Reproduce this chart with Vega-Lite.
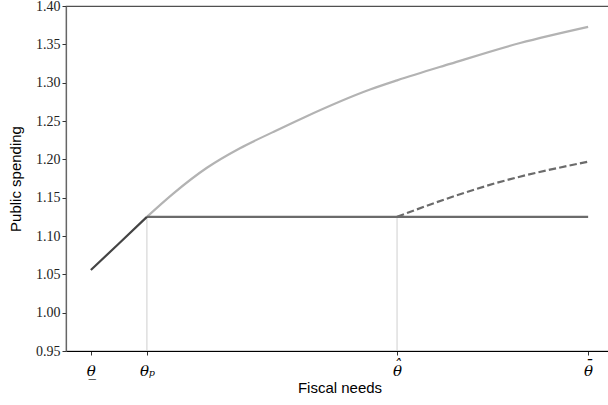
{
  "$schema": "https://vega.github.io/schema/vega-lite/v6.json",
  "width": 547,
  "height": 345,
  "autosize": {"type": "none"},
  "padding": {"left": 66, "top": 6, "right": 0, "bottom": 54},
  "background": "white",
  "config": {
    "view": {"stroke": "#505050", "strokeWidth": 1.2},
    "axis": {"grid": false}
  },
  "datasets": {
    "curves": [
      {"series": "upper", "theta": 0.1127, "g": 1.125},
      {"series": "upper", "theta": 0.165, "g": 1.155},
      {"series": "upper", "theta": 0.2334, "g": 1.189},
      {"series": "upper", "theta": 0.2998, "g": 1.2145},
      {"series": "upper", "theta": 0.3662, "g": 1.2355},
      {"series": "upper", "theta": 0.4266, "g": 1.254},
      {"series": "upper", "theta": 0.5614, "g": 1.291},
      {"series": "upper", "theta": 0.6157, "g": 1.303},
      {"series": "upper", "theta": 0.7223, "g": 1.3245},
      {"series": "upper", "theta": 0.8632, "g": 1.3517},
      {"series": "upper", "theta": 1.0, "g": 1.3728},
      {"series": "low", "theta": 0.0, "g": 1.0557},
      {"series": "low", "theta": 0.0549, "g": 1.0892},
      {"series": "low", "theta": 0.1127, "g": 1.125},
      {"series": "flat", "theta": 0.1127, "g": 1.125},
      {"series": "flat", "theta": 1.0, "g": 1.125},
      {"series": "dashed", "theta": 0.6157, "g": 1.125},
      {"series": "dashed", "theta": 0.7123, "g": 1.1479},
      {"series": "dashed", "theta": 0.8129, "g": 1.1687},
      {"series": "dashed", "theta": 1.0, "g": 1.1969}
    ],
    "vlines": [
      {"theta": 0.1127, "g0": 0.95, "g1": 1.125},
      {"theta": 0.6157, "g0": 0.95, "g1": 1.125}
    ]
  },
  "encoding": {
    "x": {
      "field": "theta", "type": "quantitative",
      "scale": {"domain": [-0.05, 1.05], "nice": false, "zero": false},
      "axis": {
        "title": "Fiscal needs",
        "titleFont": "Liberation Sans",
        "titleFontSize": 15,
        "titleFontWeight": "normal",
        "titleColor": "#000000",
        "titlePadding": 2,
        "values": [0, 0.1127, 0.6157, 1.0],
        "labelExpr": "datum.value < 0.05 ? [' ', '\u03b8\u0332'] : (datum.value < 0.3 ? [' ', '\u03b8\u209a'] : (datum.value < 0.8 ? ['\u02c6', '\u03b8'] : ['\u00af', '\u03b8']))",
        "labelFont": "DejaVu Serif",
        "labelFontStyle": "italic",
        "labelFontSize": 15,
        "labelLineHeight": 6,
        "labelColor": "#000000",
        "labelPadding": 2,
        "labelOverlap": false,
        "domainColor": "#000000",
        "domainWidth": 1.2,
        "tickColor": "#333333",
        "tickSize": 4
      }
    },
    "y": {
      "field": "g", "type": "quantitative",
      "scale": {"domain": [0.95, 1.40], "nice": false, "zero": false},
      "axis": {
        "title": "Public spending",
        "titleFont": "Liberation Sans",
        "titleFontSize": 15,
        "titleFontWeight": "normal",
        "titleColor": "#000000",
        "titlePadding": 12,
        "tickCount": 10,
        "format": ".2f",
        "labelFont": "Liberation Serif",
        "labelFontSize": 14,
        "labelColor": "#222222",
        "labelPadding": 2,
        "labelOverlap": false,
        "labelSeparation": 0,
        "domainColor": "#666666",
        "domainWidth": 1.2,
        "tickColor": "#333333",
        "tickSize": 4
      }
    }
  },
  "layer": [
    {
      "data": {"name": "curves"},
      "transform": [{"filter": "datum.series === 'upper'"}],
      "mark": {"type": "line", "color": "#b3b3b3", "strokeWidth": 2.2, "interpolate": "monotone"}
    },
    {
      "data": {"name": "vlines"},
      "mark": {"type": "rule", "color": "#cfcfcf", "strokeWidth": 1},
      "encoding": {
        "y": {"field": "g0", "type": "quantitative"},
        "y2": {"field": "g1"}
      }
    },
    {
      "data": {"name": "curves"},
      "transform": [{"filter": "datum.series === 'flat'"}],
      "mark": {"type": "line", "color": "#6b6b6b", "strokeWidth": 2.2}
    },
    {
      "data": {"name": "curves"},
      "transform": [{"filter": "datum.series === 'dashed'"}],
      "mark": {"type": "line", "color": "#6b6b6b", "strokeWidth": 2.2, "strokeDash": [7.4, 3.2], "interpolate": "monotone"}
    },
    {
      "data": {"name": "curves"},
      "transform": [{"filter": "datum.series === 'low'"}],
      "mark": {"type": "line", "color": "#444444", "strokeWidth": 2.2, "interpolate": "monotone"}
    }
  ]
}
